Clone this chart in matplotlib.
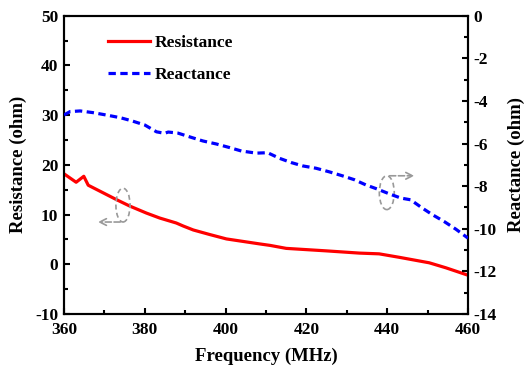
import matplotlib
matplotlib.use("Agg")
import matplotlib.pyplot as plt
from matplotlib.patches import Ellipse
from matplotlib.ticker import MultipleLocator

# Data
freq_r = [360, 363, 364.9, 366, 368.9, 373, 376.3, 380.4, 383.7, 387.8, 389.5, 392, 396,
          400.2, 404.3, 408.4, 411, 415, 424.9, 433.1, 438, 443, 450.4, 454.5, 460]
resistance = [18.2, 16.5, 17.7, 15.9, 14.7, 13.0, 11.7, 10.3, 9.3, 8.3, 7.7, 6.9, 6.0,
              5.1, 4.6, 4.1, 3.8, 3.2, 2.7, 2.25, 2.1, 1.4, 0.3, -0.7, -2.2]

freq_x = [360, 361.5, 364, 367.2, 371, 374, 376.7, 380, 382.9, 384.9, 385.8, 388.2, 391.5,
          394.4, 397.7, 401, 403.9, 407.6, 410.4, 413.3, 416.2, 419.1, 422.4, 425.7, 429,
          431.9, 434.7, 437.6, 440.5, 443.4, 445.8, 448.7, 451.2, 454.1, 457, 460]
reactance = [-4.66, -4.5, -4.47, -4.55, -4.68, -4.79, -4.93, -5.13, -5.45, -5.52, -5.46,
             -5.51, -5.71, -5.88, -6.02, -6.19, -6.35, -6.45, -6.43, -6.69, -6.89, -7.05,
             -7.16, -7.33, -7.52, -7.70, -7.94, -8.14, -8.36, -8.56, -8.64, -9.03, -9.34,
             -9.66, -10.02, -10.44]

x_ticks = [360, 380, 400, 420, 440, 460]
left_ticks = [-10, 0, 10, 20, 30, 40, 50]
right_ticks = [-14, -12, -10, -8, -6, -4, -2, 0]

plt.rcParams['font.family'] = ['Liberation Serif', 'DejaVu Serif']
plt.rcParams['font.weight'] = 'bold'
plt.rcParams['font.size'] = 12
plt.rcParams['axes.unicode_minus'] = False

fig = plt.figure(figsize=(5.28, 3.70), dpi=100)
ax = fig.add_axes([64/528, 1-314/370, (468-64)/528, (314-15.7)/370])
ax2 = ax.twinx()

l1, = ax.plot(freq_r, resistance, color='red', lw=2.3, label='Resistance', zorder=3)
l2, = ax2.plot(freq_x, reactance, color='blue', lw=2.3, label='Reactance',
               dashes=(2.3, 1.4), zorder=3)

ax.set_xlim(360, 460)
ax.set_ylim(-10, 50)
ax2.set_ylim(-14, 0)
ax.set_xticks(x_ticks)
ax.set_yticks(left_ticks)
ax2.set_yticks(right_ticks)
ax.xaxis.set_minor_locator(MultipleLocator(10))
ax.yaxis.set_minor_locator(MultipleLocator(5))
ax2.yaxis.set_minor_locator(MultipleLocator(1))

for a in (ax, ax2):
    for s in a.spines.values():
        s.set_linewidth(1.5)
ax.tick_params(which='both', direction='in', width=1.5, top=False, right=False, labelsize=12.5)
ax.tick_params(axis='y', pad=4)
ax.tick_params(axis='x', pad=6)
ax.tick_params(which='major', length=4)
ax.tick_params(which='minor', length=3)
ax2.tick_params(which='both', direction='in', width=1.5, labelsize=12.5, pad=4)
ax2.tick_params(which='major', length=4)
ax2.tick_params(which='minor', length=3)
for lab in ax.get_xticklabels() + ax.get_yticklabels() + ax2.get_yticklabels():
    lab.set_fontweight('bold')

ax.set_xlabel('Frequency (MHz)', fontsize=13.5, fontweight='bold', labelpad=7)
ax.set_ylabel('Resistance (ohm)', fontsize=13.5, fontweight='bold', labelpad=6)
ax2.set_ylabel('Reactance (ohm)', fontsize=13.5, fontweight='bold', labelpad=8)

# annotation ellipses and arrows (grey dashed)
grey = '#999999'
e1 = Ellipse((374.6, 11.9), 3.5, 6.8, fill=False, ec=grey, lw=1.2, ls=(0, (3, 2)), zorder=4)
ax.add_patch(e1)
ax.annotate('', xy=(367.7, 8.5), xytext=(374.6, 8.5),
            arrowprops=dict(arrowstyle='->', color=grey, lw=1.2, ls='--'), zorder=4)
e2 = Ellipse((439.9, 14.4), 3.7, 6.8, fill=False, ec=grey, lw=1.2, ls=(0, (3, 2)), zorder=4)
ax.add_patch(e2)
ax.annotate('', xy=(447.4, 17.8), xytext=(439.9, 17.8),
            arrowprops=dict(arrowstyle='->', color=grey, lw=1.2, ls='--'), zorder=4)

leg = ax.legend(handles=[l1, l2], loc='upper left', bbox_to_anchor=(0.0925, 0.96),
                frameon=False, fontsize=12.5, handlelength=2.4, handletextpad=0.3,
                labelspacing=0.95, borderaxespad=0)
for t in leg.get_texts():
    t.set_fontweight('bold')

fig.savefig('out.png', dpi=100)
